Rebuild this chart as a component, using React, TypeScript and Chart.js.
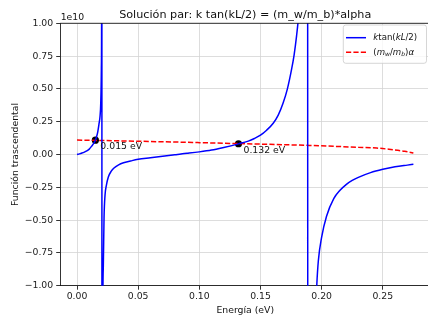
import { useEffect, useRef } from 'react';
import { Chart, registerables } from 'chart.js';

Chart.register(...registerables);

// ---- data ----
const energyBlue = [0, 0.002, 0.004, 0.006, 0.008, 0.010, 0.012, 0.014, 0.015, 0.016, 0.017, 0.018, 0.0188, 0.0194, 0.0199, 0.0201, 0.0203, 0.0205, 0.0210, 0.0215, 0.0221, 0.0229, 0.024, 0.0256, 0.028, 0.030, 0.034, 0.038, 0.045, 0.050, 0.060, 0.070, 0.080, 0.085, 0.090, 0.100, 0.110, 0.120, 0.132, 0.140, 0.145, 0.150, 0.155, 0.1604, 0.1645, 0.1685, 0.172, 0.1754, 0.1775, 0.1795, 0.1809, 0.183, 0.186, 0.1884, 0.1888, 0.192, 0.1945, 0.196, 0.1973, 0.200, 0.204, 0.210, 0.215, 0.220, 0.225, 0.230, 0.240, 0.250, 0.260, 0.270, 0.275];
const ktanValues = [0, 0.005e10, 0.0111e10, 0.0186e10, 0.0282e10, 0.0412e10, 0.064e10, 0.090e10, 0.109e10, 0.135e10, 0.175e10, 0.235e10, 0.29e10, 0.39e10, 0.65e10, 1.0e10, 3.0e10, -8e10, -1.45e10, -0.85e10, -0.48e10, -0.31e10, -0.235e10, -0.172e10, -0.127e10, -0.105e10, -0.079e10, -0.0634e10, -0.0466e10, -0.037e10, -0.025e10, -0.013e10, -0.002e10, 0.004e10, 0.009e10, 0.020e10, 0.034e10, 0.054e10, 0.081e10, 0.102e10, 0.122e10, 0.147e10, 0.185e10, 0.238e10, 0.30e10, 0.392e10, 0.50e10, 0.648e10, 0.76e10, 0.904e10, 1.03e10, 1.3e10, 2.0e10, 8e10, -8e10, -2.2e10, -1.35e10, -1.0e10, -0.81e10, -0.63e10, -0.47e10, -0.335e10, -0.273e10, -0.229e10, -0.198e10, -0.174e10, -0.138e10, -0.113e10, -0.094e10, -0.081e10, -0.075e10];

const energyRed = [0, 0.02, 0.04, 0.06, 0.08, 0.10, 0.12, 0.132, 0.15, 0.17, 0.19, 0.21, 0.23, 0.245, 0.255, 0.262, 0.268, 0.272, 0.275];
const alphaValues = [0.110e10, 0.107e10, 0.103e10, 0.099e10, 0.095e10, 0.0905e10, 0.086e10, 0.0832e10, 0.079e10, 0.0745e10, 0.069e10, 0.0625e10, 0.055e10, 0.049e10, 0.040e10, 0.032e10, 0.024e10, 0.017e10, 0.011e10];

const rootEnergies = [0.015, 0.132];
const rootValues = [0.109e10, 0.082e10];
const rootLabels = ['0.015 eV', '0.132 eV'];

const xTicks = [0, 0.05, 0.10, 0.15, 0.20, 0.25];
const yTicks = [-1e10, -0.75e10, -0.5e10, -0.25e10, 0, 0.25e10, 0.5e10, 0.75e10, 1e10];

const TITLE = 'Solución par: k tan(kL/2) = (m_w/m_b)*alpha';
const X_LABEL = 'Energía (eV)';
const Y_LABEL = 'Función trascendental';
const OFFSET_LABEL = '1e10';

const FONT = '"DejaVu Sans", sans-serif';
const GRID = '#d4d4d4';

type Seg = { t: string; it?: boolean; sub?: boolean };

function drawSegs(ctx: CanvasRenderingContext2D, segs: Seg[], x: number, y: number, size: number) {
  let cx = x;
  for (const s of segs) {
    const sz = s.sub ? size * 0.7 : size;
    ctx.font = `${s.it ? 'italic ' : ''}${sz}px ${FONT}`;
    ctx.fillText(s.t, cx, s.sub ? y + size * 0.22 : y);
    cx += ctx.measureText(s.t).width;
  }
}

const overlayPlugin = {
  id: 'overlay',
  afterDraw(chart: any) {
    const ctx: CanvasRenderingContext2D = chart.ctx;
    const { left, right, top, bottom } = chart.chartArea;
    const xs = chart.scales.x;
    const ys = chart.scales.y;
    ctx.save();
    // top spine
    ctx.strokeStyle = '#000';
    ctx.lineWidth = 0.8;
    ctx.beginPath();
    ctx.moveTo(left, top);
    ctx.lineTo(right, top);
    ctx.stroke();

    ctx.fillStyle = '#111';
    // title
    ctx.font = `11.2px ${FONT}`;
    ctx.textAlign = 'center';
    ctx.textBaseline = 'alphabetic';
    ctx.fillText(TITLE, (left + right) / 2, 17.5);
    // x label
    ctx.font = `9.3px ${FONT}`;
    ctx.fillText(X_LABEL, (left + right) / 2, 312.5);
    // offset label
    ctx.textAlign = 'left';
    ctx.fillText(OFFSET_LABEL, left + 0.5, 19.5);
    // y label
    ctx.save();
    ctx.translate(17.5, (top + bottom) / 2);
    ctx.rotate(-Math.PI / 2);
    ctx.textAlign = 'center';
    ctx.fillText(Y_LABEL, 0, 0);
    ctx.restore();

    // annotations
    ctx.textAlign = 'left';
    ctx.textBaseline = 'middle';
    ctx.font = `9.3px ${FONT}`;
    for (let i = 0; i < rootEnergies.length; i++) {
      const px = xs.getPixelForValue(rootEnergies[i]);
      const py = ys.getPixelForValue(rootValues[i]);
      ctx.fillText(rootLabels[i], px + 5, py + 6.5);
    }

    // legend
    const bx = 343.3, by = 25, bw = 83.2, bh = 38.3;
    ctx.fillStyle = 'rgba(255,255,255,0.8)';
    ctx.strokeStyle = '#cccccc';
    ctx.lineWidth = 0.8;
    ctx.beginPath();
    (ctx as any).roundRect(bx, by, bw, bh, 2.5);
    ctx.fill();
    ctx.stroke();

    const r1 = 37.7, r2 = 52.3;
    ctx.lineWidth = 1.5;
    ctx.strokeStyle = '#0000ff';
    ctx.beginPath();
    ctx.moveTo(346, r1);
    ctx.lineTo(366, r1);
    ctx.stroke();
    ctx.strokeStyle = '#ff0000';
    ctx.setLineDash([5.2, 2.2]);
    ctx.beginPath();
    ctx.moveTo(346, r2);
    ctx.lineTo(366, r2);
    ctx.stroke();
    ctx.setLineDash([]);

    ctx.fillStyle = '#111';
    ctx.textBaseline = 'middle';
    const lsize = 8.6;
    drawSegs(ctx, [{ t: 'k', it: true }, { t: 'tan(' }, { t: 'kL', it: true }, { t: '/2)' }], 373.3, r1, lsize);
    drawSegs(ctx, [{ t: '(' }, { t: 'm', it: true }, { t: 'w', it: true, sub: true }, { t: '/' }, { t: 'm', it: true }, { t: 'b', it: true, sub: true }, { t: ')' }, { t: 'α', it: true }], 373.3, r2, lsize);
    ctx.restore();
  },
};

export default function App() {
  const ref = useRef<HTMLCanvasElement | null>(null);

  useEffect(() => {
    if (!ref.current) return;
    const blue = energyBlue.map((e, i) => ({ x: e, y: ktanValues[i] }));
    const red = energyRed.map((e, i) => ({ x: e, y: alphaValues[i] }));
    const roots = rootEnergies.map((e, i) => ({ x: e, y: rootValues[i] }));

    const chart = new Chart(ref.current, {
      type: 'scatter',
      data: {
        datasets: [
          {
            label: 'ktan(kL/2)',
            data: blue,
            showLine: true,
            borderColor: '#0000ff',
            borderWidth: 1.5,
            pointRadius: 0,
            cubicInterpolationMode: 'monotone',
          },
          {
            label: '(m_w/m_b)α',
            data: red,
            showLine: true,
            borderColor: '#ff0000',
            borderWidth: 1.5,
            borderDash: [5.2, 2.2],
            pointRadius: 0,
            cubicInterpolationMode: 'monotone',
          },
          {
            label: 'roots',
            data: roots,
            showLine: false,
            pointRadius: 3.6,
            pointBackgroundColor: '#000',
            pointBorderWidth: 0,
          },
        ],
      },
      options: {
        responsive: false,
        animation: false,
        events: [],
        layout: { padding: { left: 0, top: 23.3, right: 9.8, bottom: 0 } },
        plugins: { legend: { display: false }, title: { display: false }, tooltip: { enabled: false } },
        scales: {
          x: {
            type: 'linear',
            min: -0.01375,
            max: 0.28875,
            afterBuildTicks: (s: any) => {
              s.ticks = xTicks.map((v) => ({ value: v }));
            },
            afterFit: (s: any) => {
              s.height = 30.3;
            },
            ticks: {
              font: { family: FONT, size: 9.3 },
              color: '#222',
              padding: 1.5,
              maxRotation: 0,
              callback: (v: any) => Number(v).toFixed(2),
            },
            grid: { color: GRID, lineWidth: 0.8, tickColor: '#000', tickLength: 4, tickWidth: 0.8 },
            border: { display: true, color: '#000', width: 0.8 },
          },
          y: {
            type: 'linear',
            min: -1e10,
            max: 1e10,
            afterBuildTicks: (s: any) => {
              s.ticks = yTicks.map((v) => ({ value: v }));
            },
            afterFit: (s: any) => {
              s.width = 60.2;
            },
            ticks: {
              font: { family: FONT, size: 9.3 },
              color: '#222',
              padding: 3,
              callback: (v: any) => {
                const n = Number(v) / 1e10;
                const s = Math.abs(n).toFixed(2);
                return n < 0 ? '\u2212' + s : s;
              },
            },
            grid: { color: GRID, lineWidth: 0.8, tickColor: '#000', tickLength: 4, tickWidth: 0.8 },
            border: { display: true, color: '#000', width: 0.8 },
          },
        },
      },
      plugins: [overlayPlugin],
    });
    return () => chart.destroy();
  }, []);

  return (
    <div style={{ position: 'fixed', left: 0, top: 0, width: 428, height: 316, overflow: 'hidden', background: '#fff' }}>
      <canvas ref={ref} width={440} height={316} style={{ width: 440, height: 316, display: 'block' }} />
    </div>
  );
}
